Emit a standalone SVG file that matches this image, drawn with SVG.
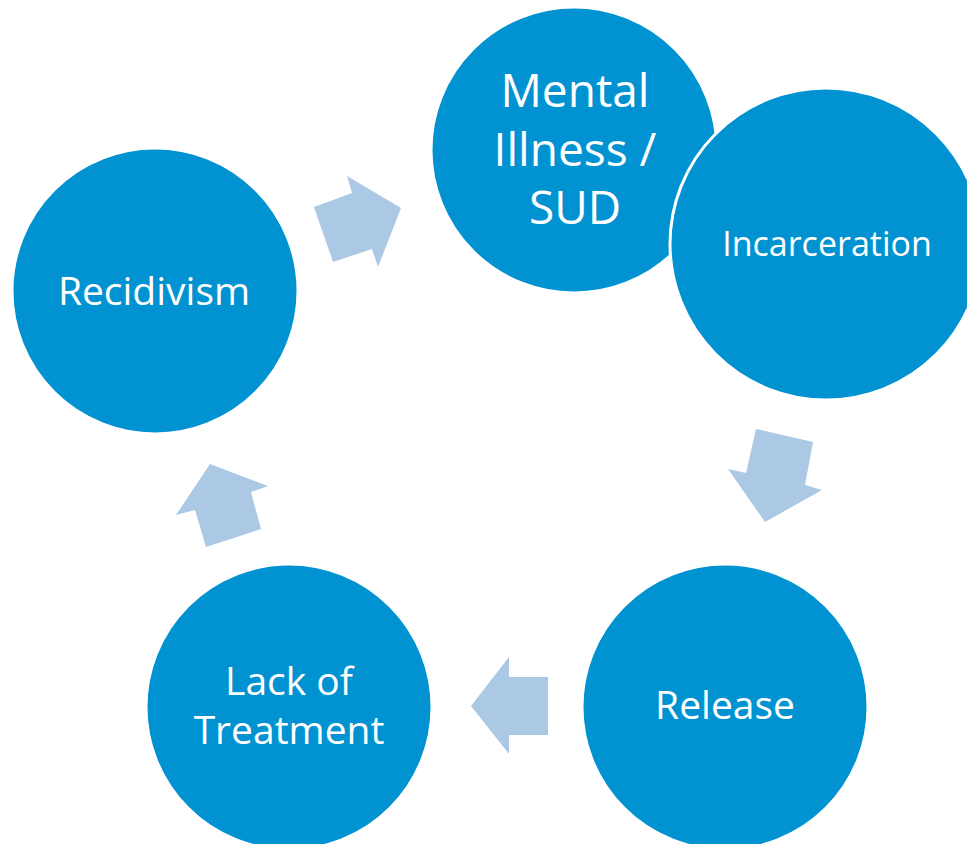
<svg xmlns="http://www.w3.org/2000/svg" width="967" height="844" viewBox="0 0 967 844">
<style>
.c{fill:#0193D1;stroke:#FFFFFF;stroke-width:3}
.t{fill:#FFFFFF;font-family:"Open Sans","Liberation Sans",sans-serif;text-anchor:middle}
.a{fill:#ABC8E5}
</style>
<rect width="967" height="844" fill="#FFFFFF"/>
<g id="connectors">
<polygon class="a" points="314,207 352,193 347,176 401,208 378,267 372,249 333,262"/>
<polygon class="a" points="756,429 813,442 805,485 822,490 765,522 728,469 746,473"/>
<polygon class="a" points="509,657 509,677 548,677 548,735 509,735 509,754 471,706"/>
<polygon class="a" points="210,464 268,486 251,492 261,529 206,547 195,510 176,515"/>
</g>
<g id="recidivism">
<circle class="c" cx="155" cy="291" r="143"/>
<text class="t" x="154" y="305" font-size="39">Recidivism</text>
</g>
<g id="mental-illness">
<circle class="c" cx="574" cy="150" r="143"/>
<text class="t" x="575" y="107" font-size="46">Mental</text>
<text class="t" x="575" y="166" font-size="46">Illness /</text>
<text class="t" x="575" y="224" font-size="46">SUD</text>
</g>
<g id="incarceration">
<circle class="c" cx="826" cy="244" r="156"/>
<text class="t" x="827" y="256" font-size="34">Incarceration</text>
</g>
<g id="release">
<circle class="c" cx="725" cy="707" r="143"/>
<text class="t" x="725" y="719" font-size="39">Release</text>
</g>
<g id="lack-of-treatment">
<circle class="c" cx="289" cy="707" r="143"/>
<text class="t" x="289" y="695" font-size="39">Lack of</text>
<text class="t" x="289" y="744" font-size="39">Treatment</text>
</g>
</svg>
